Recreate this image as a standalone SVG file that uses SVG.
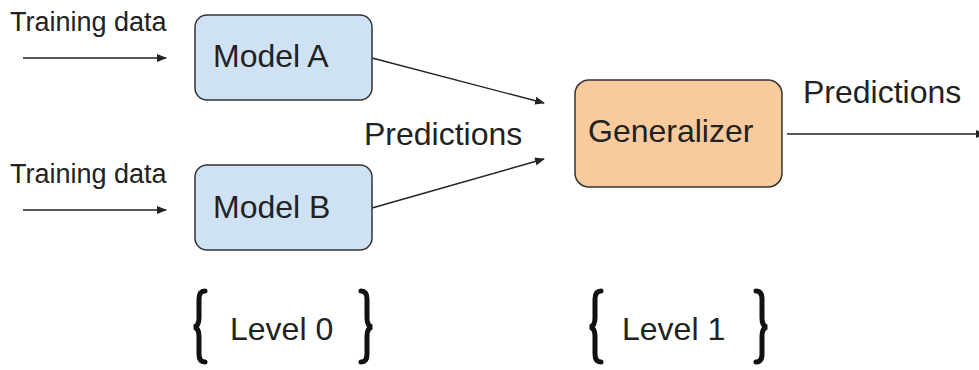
<svg xmlns="http://www.w3.org/2000/svg" width="979" height="370" viewBox="0 0 979 370">
<defs>
<style>
text{font-family:"Liberation Sans",Arial,sans-serif;fill:#222}
.t{font-size:27px}
.l{font-size:32px}
.box{stroke:#333;stroke-width:1.5}
.c{stroke:#222;stroke-width:1.4;fill:none}
.br{stroke:#111;stroke-width:5;fill:none;stroke-linecap:round}
</style>
<marker id="ah" markerWidth="10" markerHeight="8" refX="9" refY="4" orient="auto" markerUnits="userSpaceOnUse">
<path d="M0,0 L10,4 L0,8 z" fill="#222"/>
</marker>
</defs>
<rect width="979" height="370" fill="#fff"/>
<g id="connectors">
<line class="c" x1="23" y1="58" x2="166" y2="58" marker-end="url(#ah)"/>
<line class="c" x1="23" y1="210" x2="166" y2="210" marker-end="url(#ah)"/>
<line class="c" x1="372" y1="58" x2="544" y2="103" marker-end="url(#ah)"/>
<line class="c" x1="372" y1="208" x2="544" y2="159" marker-end="url(#ah)"/>
<line class="c" x1="787" y1="134" x2="985" y2="134" marker-end="url(#ah)"/>
</g>
<g id="label-training-a"><text class="t" x="10" y="31">Training data</text></g>
<g id="label-training-b"><text class="t" x="10" y="183">Training data</text></g>
<g id="model-a">
<rect class="box" x="195" y="15" width="177" height="85" rx="12" fill="#cfe2f3"/>
<text class="l" x="213" y="67">Model A</text>
</g>
<g id="model-b">
<rect class="box" x="195" y="165" width="177" height="85" rx="12" fill="#cfe2f3"/>
<text class="l" x="213" y="218">Model B</text>
</g>
<g id="label-predictions-mid"><text class="l" x="364" y="145">Predictions</text></g>
<g id="generalizer">
<rect class="box" x="575" y="80" width="207" height="107" rx="14" fill="#f9cb9c"/>
<text class="l" x="588" y="142">Generalizer</text>
</g>
<g id="label-predictions-out"><text class="l" x="803" y="103">Predictions</text></g>
<g id="level-0">
<path class="br" d="M205,291 Q199,291 199,299 L199,318 Q199,326 194,327 Q199,328 199,336 L199,354 Q199,362 205,362"/>
<path class="br" d="M361,291 Q367,291 367,299 L367,318 Q367,326 372,327 Q367,328 367,336 L367,354 Q367,362 361,362"/>
<text class="l" x="230" y="340">Level 0</text>
</g>
<g id="level-1">
<path class="br" d="M601,291 Q595,291 595,299 L595,318 Q595,326 590,327 Q595,328 595,336 L595,354 Q595,362 601,362"/>
<path class="br" d="M756,291 Q762,291 762,299 L762,318 Q762,326 767,327 Q762,328 762,336 L762,354 Q762,362 756,362"/>
<text class="l" x="622" y="340">Level 1</text>
</g>
</svg>
